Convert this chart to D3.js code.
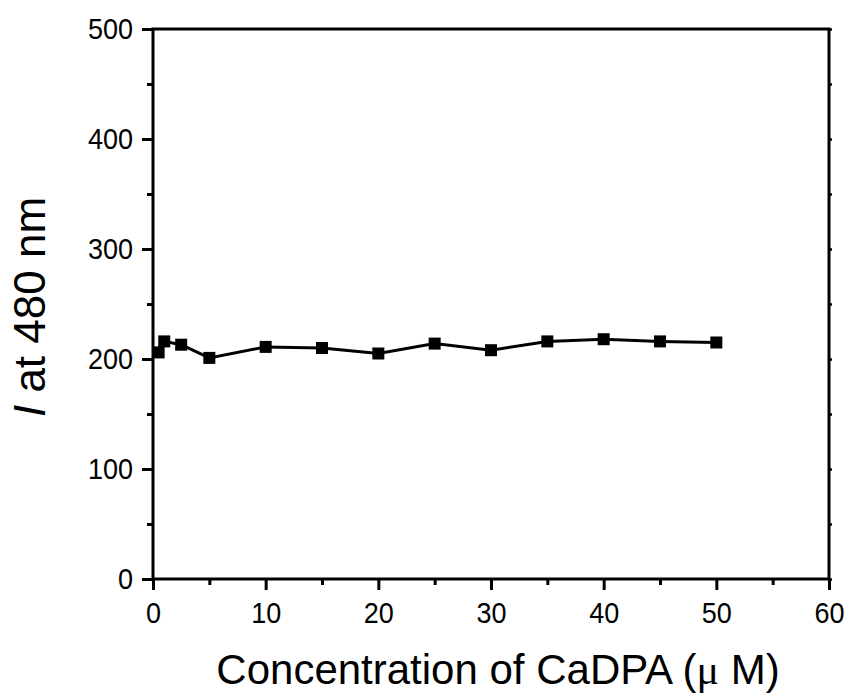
<!DOCTYPE html>
<html>
<head>
<meta charset="utf-8">
<script src="https://cdn.jsdelivr.net/npm/d3@7"></script>
<style>
  html, body { margin: 0; padding: 0; background: #fff; }
  svg { display: block; }
  text { font-family: "Liberation Sans", Arial, sans-serif; fill: #000; }
</style>
</head>
<body>
<svg id="chart" width="851" height="695"></svg>
<script>
const concentration = [0.5, 1, 2.5, 5, 10, 15, 20, 25, 30, 35, 40, 45, 50];
const intensity = [206, 216, 213, 201, 211, 210, 205, 214, 208, 216, 218, 216, 215];
const xTicks = [0, 10, 20, 30, 40, 50, 60];
const xMinorTicks = [5, 15, 25, 35, 45, 55];
const yTicks = [0, 100, 200, 300, 400, 500];
const yMinorTicks = [50, 150, 250, 350, 450];

const svg = d3.select("#chart");
const margin = { left: 153, right: 22, top: 29, bottom: 116 };
const W = 851, H = 695;
const x = d3.scaleLinear().domain([0, 60]).range([margin.left, W - margin.right]);
const y = d3.scaleLinear().domain([0, 500]).range([H - margin.bottom, margin.top]);
const sx = 0.9; // horizontal squeeze of tick labels

// frame
svg.append("rect")
  .attr("x", x(0)).attr("y", y(500))
  .attr("width", x(60) - x(0)).attr("height", y(0) - y(500))
  .attr("fill", "none").attr("stroke", "#000").attr("stroke-width", 3);

// bottom axis
const xAxis = d3.axisBottom(x).tickValues(xTicks).tickSize(11).tickPadding(12).tickFormat(d3.format("d"));
const gx = svg.append("g").attr("transform", `translate(0,${y(0)})`).call(xAxis);
gx.select(".domain").remove();
gx.selectAll(".tick line").attr("stroke-width", 3);
gx.selectAll(".tick text").attr("font-size", 30)
  .attr("font-family", "Liberation Sans, Arial, sans-serif")
  .attr("transform", `scale(${sx},1)`);
const gxm = svg.append("g").attr("transform", `translate(0,${y(0)})`)
  .call(d3.axisBottom(x).tickValues(xMinorTicks).tickSize(6).tickFormat(""));
gxm.select(".domain").remove();
gxm.selectAll(".tick line").attr("stroke-width", 3);

// left axis
const yAxis = d3.axisLeft(y).tickValues(yTicks).tickSize(11).tickPadding(9).tickFormat(d3.format("d"));
const gy = svg.append("g").attr("transform", `translate(${x(0)},0)`).call(yAxis);
gy.select(".domain").remove();
gy.selectAll(".tick line").attr("stroke-width", 3);
gy.selectAll(".tick text").attr("font-size", 30)
  .attr("font-family", "Liberation Sans, Arial, sans-serif")
  .attr("x", -20 / sx)
  .attr("transform", `scale(${sx},1)`);
const gym = svg.append("g").attr("transform", `translate(${x(0)},0)`)
  .call(d3.axisLeft(y).tickValues(yMinorTicks).tickSize(6).tickFormat(""));
gym.select(".domain").remove();
gym.selectAll(".tick line").attr("stroke-width", 3);

// right axis small ticks
const gr = svg.append("g").attr("transform", `translate(${x(60)},0)`)
  .call(d3.axisRight(y).tickValues(yTicks.concat(yMinorTicks)).tickSize(3).tickFormat(""));
gr.select(".domain").remove();
gr.selectAll(".tick line").attr("stroke-width", 2.5);

// data line
const pts = concentration.map((c, i) => [c, intensity[i]]);
svg.append("path")
  .datum(pts)
  .attr("fill", "none").attr("stroke", "#000").attr("stroke-width", 3)
  .attr("d", d3.line().x(d => x(d[0])).y(d => y(d[1])));

// markers
const ms = 12;
svg.append("g").selectAll("rect").data(pts).join("rect")
  .attr("x", d => x(d[0]) - ms / 2).attr("y", d => y(d[1]) - ms / 2)
  .attr("width", ms).attr("height", ms).attr("fill", "#000");

// x title
const xt = svg.append("text")
  .attr("x", (x(0) + x(60)) / 2 + 7).attr("y", 684)
  .attr("text-anchor", "middle").attr("font-size", 42);
xt.append("tspan").text("Concentration of CaDPA (");
xt.append("tspan").attr("font-family", "Liberation Serif, Times New Roman, serif").text("μ");
xt.append("tspan").text(" M)");

// y title
const yt = svg.append("text")
  .attr("transform", `translate(45,${(y(0) + y(500)) / 2 + 3}) rotate(-90)`)
  .attr("text-anchor", "middle").attr("font-size", 44);
yt.append("tspan").attr("font-style", "italic").text("I");
yt.append("tspan").text(" at 480 nm");
</script>
</body>
</html>
